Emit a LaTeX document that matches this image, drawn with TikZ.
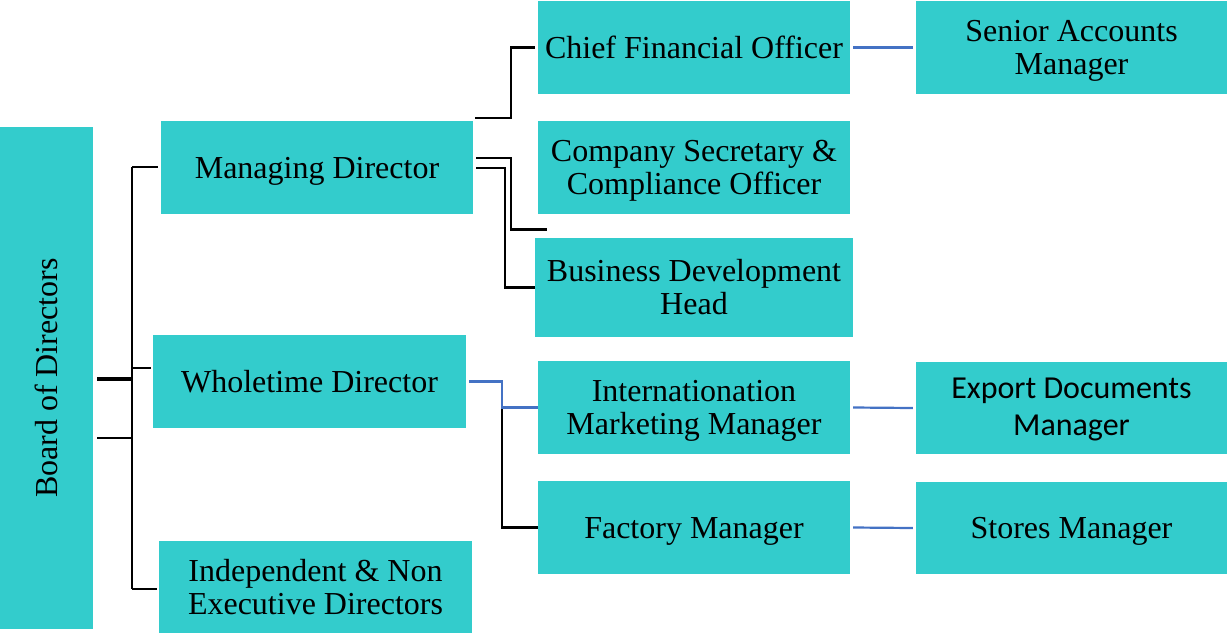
\documentclass[tikz,border=0pt]{standalone}
\usepackage{fontspec}
\setmainfont{Liberation Serif}
\newfontfamily\calfont{Carlito}
\definecolor{tealbox}{HTML}{33CCCC}
\definecolor{lineblue}{HTML}{4472C4}
\newcommand\mytop{\rule{0pt}{29pt}}
\newcommand\mybot{\rule[-8pt]{0pt}{8pt}}
\newcommand\caltop{\rule{0pt}{26pt}}
\begin{document}
\begin{tikzpicture}[x=1pt,y=-1pt,
  box/.style={fill=tealbox, inner sep=0pt, align=center,
    minimum width=312pt, minimum height=93pt,
    font=\fontsize{32}{33}\selectfont},
  calbox/.style={box, font=\calfont\fontsize{32}{37}\selectfont},
  conn/.style={draw=black, line width=2.6pt},
  thickconn/.style={draw=black, line width=4pt},
  bconn/.style={draw=lineblue, line width=2.2pt}]
\useasboundingbox (0,0) rectangle (1227,633);

% boxes
\node[box, rotate=90, minimum width=502pt, minimum height=93pt] (board) at (46.5,378) {\mytop Board of Directors\mybot};
\node[box] (md) at (317,167.5) {\mytop Managing Director\mybot};
\node[box, minimum width=313pt] (wd) at (309.5,381.5) {\mytop Wholetime Director\mybot};
\node[box, minimum width=313pt, minimum height=92pt] (ind) at (315.5,587) {\mytop Independent \& Non\\Executive Directors\mybot};
\node[box] (cfo) at (694,47.5) {\mytop Chief Financial Officer\mybot};
\node[box] (cs) at (694,167.5) {\mytop Company Secretary \&\\Compliance Officer\mybot};
\node[box, minimum width=318pt, minimum height=99pt] (bdh) at (694,287.5) {\mytop Business Development\\Head\mybot};
\node[box] (imm) at (694,407.5) {\mytop Internationation\\Marketing Manager\mybot};
\node[box] (fm) at (694,527.5) {\mytop Factory Manager\mybot};
\node[box, minimum width=311pt] (sam) at (1071.5,47.5) {\mytop Senior Accounts\\Manager\mybot};
\node[calbox, minimum width=311pt, minimum height=92pt] (edm) at (1071.5,408) {\caltop Export Documents\\Manager\mybot};
\node[box, minimum width=311pt, minimum height=92pt] (sm) at (1071.5,528) {\mytop Stores Manager\mybot};

% board bus
\coordinate (busT) at (132,167);
\coordinate (busB) at (132,589);
\coordinate (busW) at (132,368);
\coordinate (stubA) at (97,379);
\coordinate (stubAe) at (132,379);
\coordinate (stubB) at (97,438);
\coordinate (stubBe) at (132,438);
\draw[conn] (busT) -- (busB);
\draw[conn] (busT) -- ([xshift=-3pt]md.west |- busT);
\draw[conn] (busW) -- ([xshift=-2pt]wd.west |- busW);
\draw[conn] (busB) -- ([xshift=-2pt]ind.west |- busB);
\draw[thickconn] (stubA) -- (stubAe);
\draw[conn] (stubB) -- (stubBe);

% managing director
\draw[conn] ([xshift=2pt,yshift=3pt]md.north east) -| ([xshift=-27pt]cfo.west) -- ([xshift=-3pt]cfo.west);
\draw[conn] ([xshift=3pt,yshift=9.5pt]md.east) -| ([xshift=-27pt,yshift=-15pt]cs.south west) -- ([xshift=9pt,yshift=-15pt]cs.south west);
\draw[conn] ([xshift=3pt,yshift=-0.5pt]md.east) -| ([xshift=-30pt]bdh.west) -- (bdh.west);

% wholetime director
\draw[conn] ([xshift=-36pt]imm.west) |- (fm.west);
\draw[bconn] ([xshift=3pt]wd.east) -| ([xshift=-36pt]imm.west) -- (imm.west);

% level 3
\draw[bconn] ([xshift=3pt]cfo.east) -- ([xshift=-3pt]sam.west);
\draw[bconn] ([xshift=3pt]imm.east) -- ([xshift=-3pt]edm.west);
\draw[bconn] ([xshift=3pt]fm.east) -- ([xshift=-3pt]sm.west);
\end{tikzpicture}
\end{document}
